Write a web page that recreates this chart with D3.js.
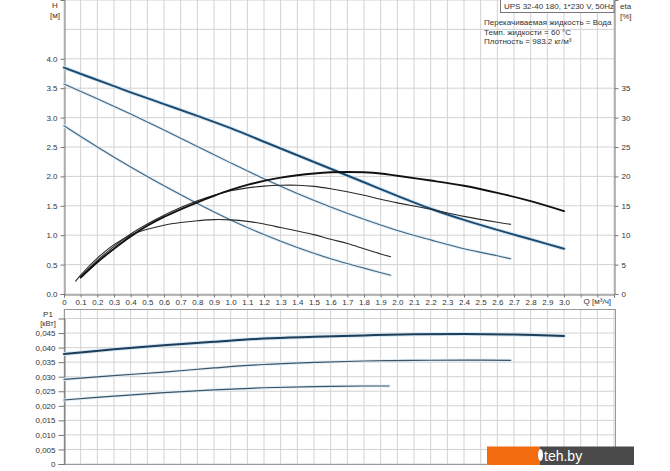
<!DOCTYPE html>
<html><head><meta charset="utf-8">
<script src="https://cdn.jsdelivr.net/npm/d3@7"></script>
<style>
html,body{margin:0;padding:0;background:#fff;}
svg{display:block;font-family:"Liberation Sans",Arial,sans-serif;}
</style></head>
<body><svg id="c" width="670" height="471"></svg>
<script>
// ---- data ----
const qTicks = d3.range(0, 31).map(i => i / 10);
const hTicks = [0, 0.5, 1, 1.5, 2, 2.5, 3, 3.5, 4];
const etaTicks = [0, 5, 10, 15, 20, 25, 30, 35];
const pTicks = [0, 0.005, 0.01, 0.015, 0.02, 0.025, 0.03, 0.035, 0.04, 0.045];

const hHighQ = [0,0.2,0.4,0.6,0.8,1.0,1.2,1.4,1.6,1.8,2.0,2.2,2.4,2.6,2.8,3.0];
const hHigh  = [3.85,3.64,3.43,3.23,3.03,2.82,2.59,2.36,2.13,1.90,1.67,1.45,1.26,1.09,0.93,0.77];
const hMidQ  = [0,0.2,0.4,0.6,0.8,1.0,1.2,1.4,1.6,1.8,2.0,2.2,2.4,2.6,2.68];
const hMid   = [3.57,3.32,3.06,2.79,2.51,2.23,1.96,1.71,1.48,1.27,1.08,0.92,0.77,0.65,0.60];
const hLowQ  = [0,0.2,0.4,0.6,0.8,1.0,1.2,1.4,1.6,1.8,1.96];
const hLow   = [2.86,2.50,2.16,1.84,1.54,1.26,1.01,0.79,0.60,0.44,0.32];

const etaHighQ = [0.1,0.2,0.3,0.4,0.5,0.6,0.7,0.8,0.9,1.0,1.1,1.2,1.3,1.4,1.5,1.6,1.7,1.8,1.9,2.0,2.2,2.4,2.6,2.8,3.0];
const etaHigh  = [2.8,5.4,7.7,9.8,11.6,13.1,14.4,15.6,16.7,17.7,18.55,19.25,19.8,20.2,20.5,20.7,20.75,20.7,20.5,20.1,19.3,18.4,17.2,15.8,14.1];
const etaMidQ  = [0.1,0.2,0.3,0.4,0.5,0.6,0.7,0.8,0.9,1.0,1.1,1.2,1.3,1.4,1.5,1.6,1.7,1.8,1.9,2.0,2.2,2.4,2.6,2.68];
const etaMid   = [2.9,5.7,8.1,10.2,11.9,13.4,14.7,15.85,16.8,17.55,18.05,18.35,18.5,18.5,18.3,17.9,17.4,16.8,16.1,15.5,14.4,13.2,12.2,11.85];
const etaLowQ  = [0.07,0.1,0.2,0.3,0.4,0.5,0.6,0.7,0.8,0.9,1.0,1.1,1.2,1.3,1.4,1.5,1.6,1.7,1.8,1.9,1.96];
const etaLow   = [2.2,3.2,6.1,8.4,10.0,11.0,11.7,12.15,12.45,12.65,12.6,12.35,11.9,11.3,10.7,10.1,9.3,8.6,7.7,6.8,6.35];

const pHighQ = [0,0.3,0.6,0.9,1.2,1.5,1.8,2.1,2.4,2.7,3.0];
const pHigh  = [0.0378,0.0394,0.0408,0.0420,0.0431,0.0437,0.0442,0.0446,0.0447,0.0445,0.0440];
const pMidQ  = [0,0.3,0.6,0.9,1.2,1.5,1.8,2.1,2.4,2.68];
const pMid   = [0.0291,0.0304,0.0316,0.0330,0.0342,0.0349,0.0354,0.0356,0.0357,0.0356];
const pLowQ  = [0,0.3,0.6,0.9,1.2,1.5,1.8,1.95];
const pLow   = [0.0220,0.0233,0.0245,0.0255,0.0262,0.0266,0.0268,0.0268];

const titleText = "UPS 32-40 180, 1*230 V, 50Hz";
const infoLines = ["Перекачиваемая жидкость = Вода", "Темп. жидкости = 60 °C", "Плотность = 983.2 кг/м³"];

// ---- scales ----
const svg = d3.select("#c");
const x = d3.scaleLinear().domain([0, 3.3]).range([64, 614]);
const yH = d3.scaleLinear().domain([0, 5]).range([294, 0]);
const yE = d3.scaleLinear().domain([0, 50]).range([294, 0]);
const yP = d3.scaleLinear().domain([0, 0.05]).range([464, 318.5]);
const gridCol = "#d2d2d2";
const fmt1 = d3.format(".1f");
const fmtP = v => v === 0 ? "0" : d3.format(".3f")(v).replace(".", ",");

// ---- top chart grid ----
const gTop = svg.append("g");
d3.range(0, 34).forEach(i => {
  const xv = x(i / 10);
  gTop.append("line").attr("x1", xv).attr("x2", xv).attr("y1", 0).attr("y2", 294)
    .attr("stroke", gridCol).attr("stroke-width", 1);
});
d3.range(0, 11).forEach(i => {
  const yv = yH(i / 2);
  gTop.append("line").attr("x1", 64).attr("x2", 614).attr("y1", yv).attr("y2", yv)
    .attr("stroke", gridCol).attr("stroke-width", 1);
});
// axes
const axL = d3.axisLeft(yH).tickValues(hTicks).tickFormat(fmt1).tickSize(4).tickPadding(3);
svg.append("g").attr("transform", "translate(64.5,0)").call(axL);
const axR = d3.axisRight(yE).tickValues(etaTicks).tickFormat(d3.format("d")).tickSize(4).tickPadding(3);
svg.append("g").attr("transform", "translate(614.5,0)").call(axR);
const axB = d3.axisBottom(x).tickValues(d3.range(0, 34).map(i => i / 10))
  .tickFormat(d => d <= 3.0001 ? (d === 0 ? "0" : fmt1(d)) : "").tickSize(3).tickPadding(2);
svg.append("g").attr("transform", "translate(0,294.5)").call(axB);
svg.selectAll(".domain").attr("stroke", "#777");
svg.selectAll(".tick line").attr("stroke", "#777");
svg.selectAll(".tick text").attr("font-size", 8).attr("fill", "#333")
  .attr("font-family", "'Liberation Sans', Arial, sans-serif");

svg.append("text").attr("x", x(3.2)).attr("y", 304).attr("text-anchor", "middle")
  .attr("font-size", 8).attr("fill", "#333").text("Q [м³/ч]");
svg.append("text").attr("x", 55).attr("y", 8).attr("text-anchor", "middle").attr("font-size", 8).attr("fill", "#333").text("H");
svg.append("text").attr("x", 55).attr("y", 18).attr("text-anchor", "middle").attr("font-size", 8).attr("fill", "#333").text("[м]");
svg.append("text").attr("x", 620).attr("y", 9).attr("font-size", 8).attr("fill", "#333").text("eta");
svg.append("text").attr("x", 620).attr("y", 19).attr("font-size", 8).attr("fill", "#333").text("[%]");

// title box
svg.append("rect").attr("x", 500.5).attr("y", -1).attr("width", 113.5).attr("height", 13.5)
  .attr("fill", "#fff").attr("stroke", "#777");
svg.append("text").attr("x", 504).attr("y", 9).attr("font-size", 8).attr("fill", "#333").text(titleText);
infoLines.forEach((t, i) => {
  svg.append("text").attr("x", 484).attr("y", 25 + i * 9.5).attr("font-size", 8).attr("fill", "#333").text(t);
});

// ---- curves ----
const mk = (qs, vs) => qs.map((q, i) => [q, vs[i]]);
const cv = d3.curveCatmullRom.alpha(0.5);
const lineH = d3.line().x(d => x(d[0])).y(d => yH(d[1])).curve(cv);
const lineE = d3.line().x(d => x(d[0])).y(d => yE(d[1])).curve(cv);
const lineP = d3.line().x(d => x(d[0])).y(d => yP(d[1])).curve(cv);

function draw(line, data, col, w, halo) {
  if (halo) svg.append("path").attr("d", line(data)).attr("fill", "none")
    .attr("stroke", halo).attr("stroke-width", w + 2).attr("stroke-linecap", "round");
  svg.append("path").attr("d", line(data)).attr("fill", "none")
    .attr("stroke", col).attr("stroke-width", w).attr("stroke-linecap", "round");
}
draw(lineH, mk(hLowQ, hLow), "#3f6682", 1.1, "#e3eef6");
draw(lineH, mk(hMidQ, hMid), "#3f6682", 1.1, "#e3eef6");
draw(lineH, mk(hHighQ, hHigh), "#1d4b70", 2, "#d6e7f3");
draw(lineE, mk(etaLowQ, etaLow), "#2a2a2a", 1.1, null);
draw(lineE, mk(etaMidQ, etaMid), "#2a2a2a", 1.1, null);
draw(lineE, mk(etaHighQ, etaHigh), "#111", 1.9, null);

// ---- bottom chart ----
d3.range(0, 34).forEach(i => {
  const xv = x(i / 10);
  svg.append("line").attr("x1", xv).attr("x2", xv).attr("y1", 309).attr("y2", 464)
    .attr("stroke", gridCol);
});
d3.range(0, 11).forEach(i => {
  const yv = yP(i * 0.005);
  svg.append("line").attr("x1", 64).attr("x2", 615).attr("y1", yv).attr("y2", yv).attr("stroke", gridCol);
});
svg.append("rect").attr("x", 64.5).attr("y", 309.5).attr("width", 551).attr("height", 155)
  .attr("fill", "none").attr("stroke", "#999");
const axP = d3.axisLeft(yP).tickValues(pTicks).tickFormat(fmtP).tickSize(6).tickPadding(3);
const gP = svg.append("g").attr("transform", "translate(64.5,0)").call(axP);
gP.select(".domain").attr("stroke", "#777");
gP.selectAll(".tick line").attr("stroke", "#777");
gP.selectAll(".tick text").attr("font-size", 8).attr("fill", "#333")
  .attr("font-family", "'Liberation Sans', Arial, sans-serif");
svg.append("text").attr("x", 48).attr("y", 317).attr("text-anchor", "middle").attr("font-size", 8).attr("fill", "#333").text("P1");
svg.append("text").attr("x", 48).attr("y", 326).attr("text-anchor", "middle").attr("font-size", 7.5).attr("fill", "#333").text("[кВт]");

draw(lineP, mk(pLowQ, pLow), "#3a5468", 1.2, "#e3eef6");
draw(lineP, mk(pMidQ, pMid), "#3a5468", 1.2, "#e3eef6");
draw(lineP, mk(pHighQ, pHigh), "#1d3d58", 2, "#d6e7f3");

// ---- watermark ----
svg.append("rect").attr("x", 487).attr("y", 446.5).attr("width", 53).attr("height", 18.5).attr("fill", "#f26b0f");
svg.append("rect").attr("x", 540).attr("y", 446.5).attr("width", 94).attr("height", 18.5).attr("fill", "#4a4a4a");
svg.append("ellipse").attr("cx", 540.5).attr("cy", 455).attr("rx", 2.5).attr("ry", 6).attr("fill", "#fff");
svg.append("text").attr("x", 544).attr("y", 461).attr("font-size", 14).attr("fill", "#fff")
  .attr("font-family", "'Liberation Sans', Arial, sans-serif").text("teh.by");
</script></body></html>
